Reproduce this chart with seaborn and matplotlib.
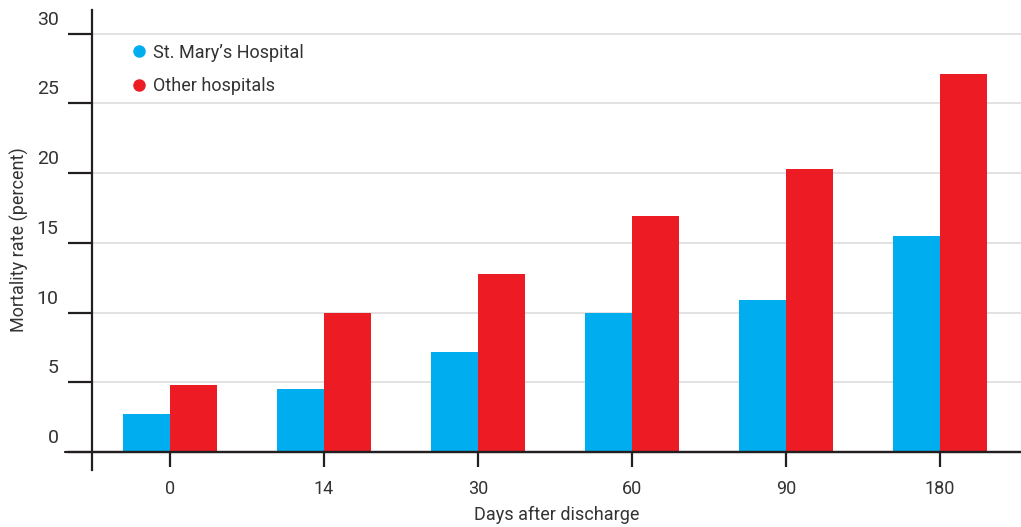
import matplotlib
matplotlib.use("Agg")
import matplotlib.pyplot as plt
import matplotlib.transforms as mtransforms
from matplotlib.lines import Line2D
import seaborn as sns
import pandas as pd

days = ["0", "14", "30", "60", "90", "180"]
st_marys = [2.7, 4.5, 7.2, 10.0, 10.9, 15.5]
other = [4.8, 10.0, 12.8, 16.9, 20.3, 27.1]
series_names = ["St. Mary\u2019s Hospital", "Other hospitals"]
y_ticks = [0, 5, 10, 15, 20, 25, 30]
colors = ["#00AEEF", "#ED1C24"]

df = pd.DataFrame({
    "day": days * 2,
    "rate": st_marys + other,
    "hospital": [series_names[0]] * len(days) + [series_names[1]] * len(days),
})

sns.set_style("white")
plt.rcParams["font.family"] = ["Roboto", "DejaVu Sans"]
TXT = "#333333"
AX = "#231f20"

fig = plt.figure(figsize=(10.21, 5.27), dpi=100)
ax = fig.add_axes([92 / 1021, 57 / 527, 929 / 1021, 460 / 527])

sns.barplot(data=df, x="day", y="rate", hue="hospital", order=days,
            hue_order=series_names, palette=colors, width=0.61, gap=0,
            saturation=1, ax=ax, legend=False, zorder=2, linewidth=0)

ax.set_xlim(-0.506, 5.526)
ax.set_ylim(-1.29, 31.7)

for s in ["top", "right"]:
    ax.spines[s].set_visible(False)
ax.spines["left"].set_color(AX)
ax.spines["left"].set_linewidth(1.6)
ax.spines["bottom"].set_position(("data", 0))
ax.spines["bottom"].set_color(AX)
ax.spines["bottom"].set_linewidth(1.6)
ax.spines["bottom"].set_zorder(4)
ax.axhline(0, xmin=-0.029, xmax=1, color=AX, lw=1.6, clip_on=False, zorder=4)

ax.set_yticks(y_ticks)
ax.set_yticklabels([str(v) for v in y_ticks])
ax.yaxis.grid(True, color="#dddddd", lw=1.2, zorder=0)
ax.set_axisbelow(True)
ax.tick_params(axis="y", direction="out", length=17, width=1.6, color=AX,
               pad=7, labelsize=14, labelcolor=TXT, left=True)
ax.tick_params(axis="x", direction="out", length=11, width=1.6, color=AX,
               pad=9, labelsize=13, labelcolor=TXT, bottom=True)

offset = mtransforms.ScaledTranslation(0, 0.09, fig.dpi_scale_trans)
for lbl in ax.get_yticklabels():
    lbl.set_va("baseline")
    lbl.set_transform(lbl.get_transform() + offset)

ax.set_xlabel("Days after discharge", fontsize=13, color=TXT, labelpad=6)
ax.set_ylabel("Mortality rate (percent)", fontsize=13, color=TXT)
ax.yaxis.set_label_coords(-0.068, 0.5)

handles = [Line2D([0], [0], marker="o", linestyle="none", markersize=8,
                  markerfacecolor=c, markeredgecolor=c) for c in colors]
ax.legend(handles, series_names, loc="upper left", bbox_to_anchor=(0.021, 0.962),
          frameon=False, fontsize=13, labelcolor=TXT, handletextpad=0.2,
          labelspacing=0.85, handlelength=1.2)

fig.savefig("out.png", dpi=100)
